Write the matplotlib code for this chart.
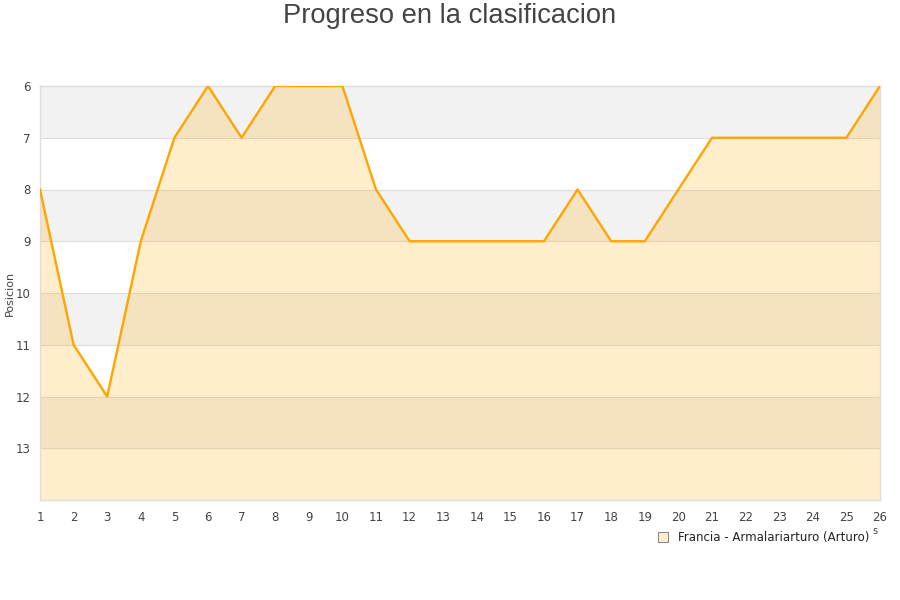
import matplotlib
matplotlib.use('Agg')
import matplotlib.pyplot as plt
from matplotlib.lines import Line2D

# jornadas y posicion en la clasificacion
jornadas = list(range(1, 27))
posicion = [8, 11, 12, 9, 7, 6, 7, 6, 6, 6, 8, 9, 9, 9, 9, 9, 8, 9, 9, 8, 7, 7, 7, 7, 7, 6]
y_ticks = [6, 7, 8, 9, 10, 11, 12, 13]
serie = 'Francia - Armalariarturo (Arturo)'

fig = plt.figure(figsize=(9, 6), dpi=100)
ax = fig.add_axes([40/900, 1-500/600, 840/900, 414/600])

# bandas alternas de fondo
for y0 in range(6, 14, 2):
    ax.axhspan(y0, y0 + 1, color='#f2f2f2', zorder=0, lw=0)
for y in range(7, 14):
    ax.axhline(y, color='#dddddd', lw=0.8, zorder=1)

ax.fill_between(jornadas, posicion, 14, color='#ffa500', alpha=0.2, lw=0, zorder=2)
ax.plot(jornadas, posicion, color='#ffa500', lw=1.7, zorder=3)

ax.set_xlim(1, 26)
ax.set_ylim(14, 6)
ax.set_xticks(jornadas)
ax.set_yticks(y_ticks)
ax.tick_params(length=0, labelsize=8.5, colors='#444444')
ax.tick_params(axis='y', pad=7)
ax.tick_params(axis='x', pad=8)
for s in ax.spines.values():
    s.set_color('#dddddd')
    s.set_linewidth(1)

fig.text(10/900, 1-293/600, 'Posicion', fontsize=8, color='#444444',
         rotation=90, ha='center', va='center')
fig.text(0.5, 1-16/600, 'Progreso en la clasificacion', fontsize=19.7, color='#444444',
         family='Liberation Sans', ha='center', va='center')

handle = Line2D([], [], marker='s', ls='', markersize=7, markerfacecolor='#ffedcc',
                markeredgecolor='#888888', markeredgewidth=0.8)
fig.legend([handle], [serie], loc='center', bbox_to_anchor=(760/900, 1-538/600),
           frameon=False, fontsize=8.5, handletextpad=0.3, labelcolor='#222222')
fig.text(875/900, 1-531/600, 's', fontsize=7, color='#444444', ha='center', va='center')

fig.savefig('out.png', dpi=100)
